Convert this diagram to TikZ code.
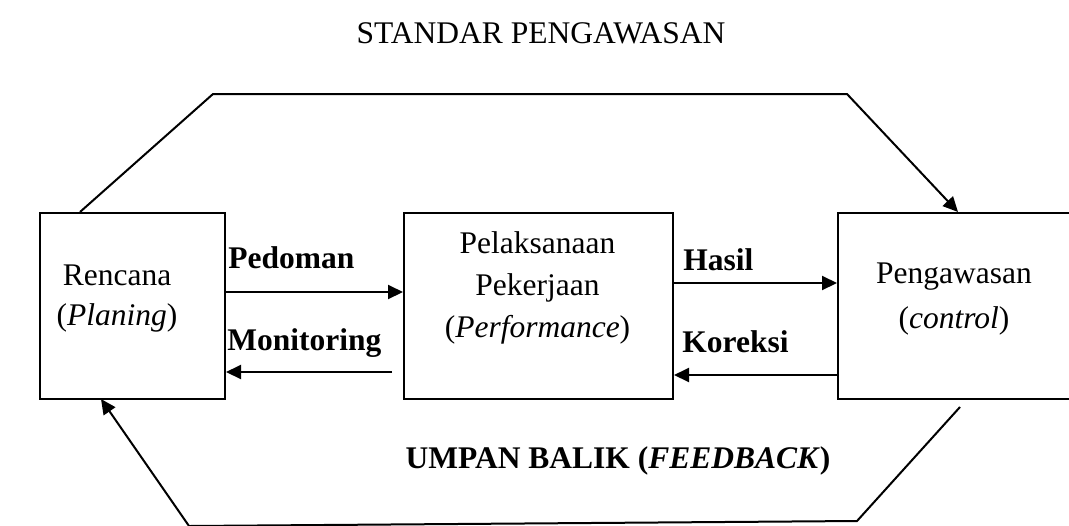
\documentclass[tikz,border=0pt]{standalone}
\usepackage{fontspec}
\setmainfont{Liberation Serif}
\usetikzlibrary{arrows.meta}
\begin{document}
\begin{tikzpicture}[x=0.5pt,y=-0.5pt,
  frame/.style={draw,line width=1pt,rectangle,inner sep=0pt,anchor=north west,minimum height=93pt},
  link/.style={line width=1pt,-{Triangle[length=7.5pt,width=7pt]}},
  txt/.style={anchor=base,inner sep=0pt,font=\fontsize{15.75}{19}\selectfont},
  lbl/.style={anchor=base west,inner sep=0pt,font=\fontsize{15.75}{19}\selectfont\bfseries}]
\useasboundingbox (0,0) rectangle (1069,525);
\clip (0,0) rectangle (1069,525);

% the three stages
\node[frame,minimum width=92.5pt] (plan) at (39,212) {};
\node[frame,minimum width=134.5pt] (work) at (403,212) {};
\node[frame,minimum width=121.5pt] (ctrl) at (837,212) {};

% heights of the horizontal links
\coordinate (yped) at (0,292);
\coordinate (ymon) at (0,372);
\coordinate (yhas) at (0,283);
\coordinate (ykor) at (0,375);
\coordinate (montail) at (392,372);

\draw[link] (plan.east |- yped) -- (work.west |- yped);
\draw[link] (montail) -- (plan.east |- ymon);
\draw[link] (work.east |- yhas) -- (ctrl.west |- yhas);
\draw[link] (ctrl.west |- ykor) -- (work.east |- ykor);

% standard loop over the top
\coordinate (s0) at (80,212);
\coordinate (s1) at (213,94);
\coordinate (s2) at (847,94);
\coordinate (s3) at (958,212);
\draw[link] (s0) -- (s1) -- (s2) -- (s3);

% feedback loop along the bottom
\coordinate (f0) at (960,407);
\coordinate (f1) at (857,521);
\coordinate (f2) at (189,526);
\coordinate (f3) at (101,399);
\draw[link] (f0) -- (f1) -- (f2) -- (f3);

% texts
\node[txt] (tstd) at (541,43) {STANDAR PENGAWASAN};
\node[txt] (tren1) at (117,285) {Rencana};
\node[txt] (tren2) at (117,325) {(\textit{Planing})};
\node[lbl] (tped) at (228,268) {Pedoman};
\node[lbl] (tmon) at (227,350) {Monitoring};
\node[txt] (tpel1) at (537.5,253) {Pelaksanaan};
\node[txt] (tpel2) at (537.5,295) {Pekerjaan};
\node[txt] (tpel3) at (537.5,337) {(\textit{Performance})};
\node[lbl] (thas) at (683,270) {Hasil};
\node[lbl] (tkor) at (682,352) {Koreksi};
\node[txt] (tpeng1) at (954,283) {Pengawasan};
\node[txt] (tpeng2) at (954,328) {(\textit{control})};
\node[txt,font=\fontsize{15.75}{19}\selectfont\bfseries] (tfb) at (618,468) {UMPAN BALIK (\textit{FEEDBACK})};
\end{tikzpicture}
\end{document}
